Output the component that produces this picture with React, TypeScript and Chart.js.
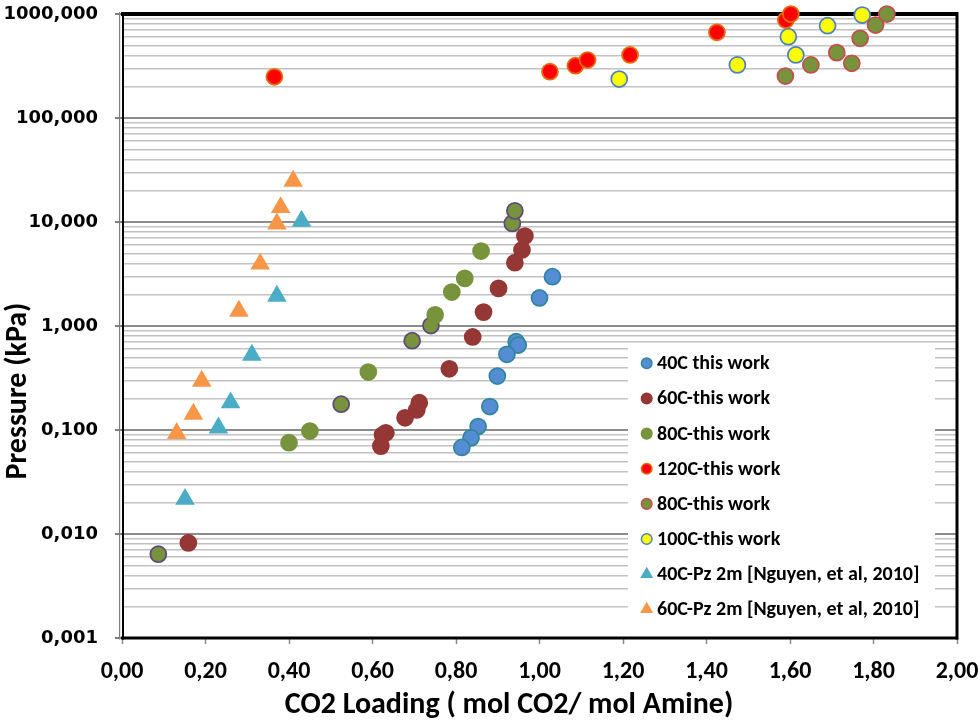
import React, { useEffect, useRef } from 'react';
import { Chart, registerables } from 'chart.js';

Chart.register(...registerables);

// ---------------- DATA ----------------
const seriesLabels = [
  '40C this work',
  '60C-this work',
  '80C-this work',
  '120C-this work',
  '80C-this work',
  '100C-this work',
  '40C-Pz 2m [Nguyen, et al, 2010]',
  '60C-Pz 2m [Nguyen, et al, 2010]',
];

const s40C_x = [1.031, 1.0, 0.944, 0.949, 0.922, 0.899, 0.881, 0.853, 0.836, 0.814];
const s40C_y = [2.98, 1.86, 0.706, 0.656, 0.535, 0.33, 0.168, 0.108, 0.084, 0.068];

const s60C_x = [0.159, 0.62, 0.624, 0.632, 0.678, 0.706, 0.712, 0.784, 0.84, 0.866, 0.902, 0.941, 0.958, 0.965];
const s60C_y = [0.0082, 0.07, 0.0895, 0.094, 0.131, 0.156, 0.183, 0.388, 0.784, 1.36, 2.3, 4.06, 5.38, 7.33];

const s80C_x = [0.4, 0.45, 0.59, 0.75, 0.79, 0.821, 0.86];
const s80C_y = [0.0755, 0.0977, 0.361, 1.28, 2.12, 2.87, 5.26];

const s120C_x = [0.365, 1.025, 1.086, 1.115, 1.217, 1.425, 1.59, 1.602];
const s120C_y = [249, 279, 318, 361, 404, 667, 875, 1000];

const s80Cb_x = [1.589, 1.65, 1.712, 1.748, 1.768, 1.805, 1.832];
const s80Cb_y = [253, 324, 425, 336, 584, 783, 1000];

const s100C_x = [1.191, 1.474, 1.596, 1.614, 1.69, 1.773];
const s100C_y = [237, 324, 605, 404, 772, 978];

const pz40_x = [0.151, 0.231, 0.26, 0.311, 0.371, 0.43];
const pz40_y = [0.0216, 0.105, 0.183, 0.526, 1.94, 10.2];

const pz60_x = [0.131, 0.171, 0.191, 0.28, 0.331, 0.371, 0.38, 0.41];
const pz60_y = [0.093, 0.1425, 0.296, 1.39, 3.95, 9.6, 13.8, 24.8];

// extra 80C points (purple outline), not in legend
const s80Cp_x = [0.087, 0.525, 0.695, 0.74, 0.935, 0.941];
const s80Cp_y = [0.0064, 0.177, 0.722, 1.01, 9.7, 12.8];

const xTickLabels = ['0,00', '0,20', '0,40', '0,60', '0,80', '1,00', '1,20', '1,40', '1,60', '1,80', '2,00'];
const yTickValues = [0.001, 0.01, 0.1, 1, 10, 100, 1000];
const yTickLabels = ['0,001', '0,010', '0,100', '1,000', '10,000', '100,000', '1000,000'];
const yMinorSteps = [2, 3, 4, 5, 6, 7, 8, 9];

const xTitle = 'CO2 Loading ( mol CO2/ mol Amine)';
const yTitle = 'Pressure (kPa)';

// ---------------- STYLE ----------------
const NARROW = 'Carlito, "Liberation Sans Narrow", "Open Sans", sans-serif';
const WIDE = '"DejaVu Sans", Verdana, sans-serif';

const toPts = (xs: number[], ys: number[]) => xs.map((x, i) => ({ x, y: ys[i] }));

const isMajorVal = (v: number) => yTickValues.some((t) => Math.abs(t - v) / t < 1e-6);

const frame = { left: 122, top: 14, right: 957, bottom: 638 };

const framePlugin = {
  id: 'frame',
  beforeDatasetsDraw(chart: any) {
    const { left, top, right, bottom } = chart.chartArea;
    const ctx = chart.ctx;
    ctx.save();
    ctx.fillStyle = '#000';
    ctx.fillRect(left - 1, top - 2, right - left + 2, 4);
    ctx.fillRect(right - 1.5, top - 2, 3, bottom - top + 3.5);
    ctx.fillRect(left - 1, bottom - 1.5, right - left + 2, 3);
    ctx.fillRect(left, top - 2, 2, bottom - top + 3.5);
    ctx.fillStyle = '#808080';
    ctx.fillRect(left - 3, top - 2, 1.2, bottom - top + 3.5);
    ctx.restore();
  },
};

const legendPlugin = {
  id: 'insideLegend',
  afterDatasetsDraw(chart: any) {
    const ctx = chart.ctx;
    const items = chart.data.datasets.filter((d: any) => !d.hideInLegend);
    ctx.save();
    ctx.fillStyle = '#ffffff';
    ctx.fillRect(628, 345, 307, 283);
    ctx.font = 'bold 20px ' + NARROW;
    ctx.textAlign = 'left';
    ctx.textBaseline = 'middle';
    items.forEach((d: any, i: number) => {
      const cy = 363.3 + i * 35.15;
      const cx = 646.7;
      ctx.beginPath();
      if (d.pointStyle === 'triangle') {
        const r = 7.5;
        ctx.moveTo(cx, cy - r);
        ctx.lineTo(cx + r * 0.866, cy + r / 2);
        ctx.lineTo(cx - r * 0.866, cy + r / 2);
        ctx.closePath();
        ctx.fillStyle = d.backgroundColor;
        ctx.fill();
      } else {
        ctx.arc(cx, cy, 5.3, 0, Math.PI * 2);
        ctx.fillStyle = d.backgroundColor;
        ctx.fill();
        ctx.lineWidth = 1.5;
        ctx.strokeStyle = d.borderColor;
        ctx.stroke();
      }
      ctx.fillStyle = '#000';
      ctx.fillText(d.label, 657, cy + 1);
    });
    ctx.restore();
  },
};

const titlePlugin = {
  id: 'axisTitles',
  afterDraw(chart: any) {
    const ctx = chart.ctx;
    ctx.save();
    ctx.fillStyle = '#000';
    ctx.font = 'bold 30px ' + NARROW;
    ctx.textAlign = 'center';
    ctx.textBaseline = 'middle';
    ctx.fillText(xTitle, 509, 705);
    ctx.translate(18, 391);
    ctx.rotate(-Math.PI / 2);
    ctx.fillText(yTitle, 0, 0);
    ctx.restore();
  },
};

export default function App() {
  const ref = useRef<HTMLCanvasElement | null>(null);

  useEffect(() => {
    if (!ref.current) return;
    const circle = (label: string, xs: number[], ys: number[], fill: string, border: string, extra: any = {}) => ({
      label,
      data: toPts(xs, ys),
      backgroundColor: fill,
      borderColor: border,
      pointBackgroundColor: fill,
      pointBorderColor: border,
      pointStyle: 'circle',
      pointRadius: 8,
      pointBorderWidth: 1.75,
      pointHoverRadius: 8,
      showLine: false,
      clip: false,
      ...extra,
    });
    const tri = (label: string, xs: number[], ys: number[], fill: string) => ({
      label,
      data: toPts(xs, ys),
      backgroundColor: fill,
      borderColor: fill,
      pointBackgroundColor: fill,
      pointBorderColor: fill,
      pointStyle: 'triangle',
      pointRadius: 11.3,
      pointBorderWidth: 0,
      pointHoverRadius: 11.3,
      showLine: false,
      clip: false,
    });

    const chart = new Chart(ref.current, {
      type: 'scatter',
      data: {
        datasets: [
          circle(seriesLabels[0], s40C_x, s40C_y, '#548DD4', '#31859C'),
          circle(seriesLabels[1], s60C_x, s60C_y, '#953735', '#953735'),
          circle(seriesLabels[2], s80C_x, s80C_y, '#77933C', '#77933C'),
          circle(seriesLabels[3], s120C_x, s120C_y, '#FF0000', '#E46C0A'),
          circle(seriesLabels[4], s80Cb_x, s80Cb_y, '#77933C', '#C0504D'),
          circle(seriesLabels[5], s100C_x, s100C_y, '#FFFF00', '#4F81BD'),
          tri(seriesLabels[6], pz40_x, pz40_y, '#4BACC6'),
          tri(seriesLabels[7], pz60_x, pz60_y, '#F79646'),
          circle('80C-this work', s80Cp_x, s80Cp_y, '#77933C', '#604A7B', { hideInLegend: true }),
        ] as any,
      },
      options: {
        responsive: false,
        animation: false,
        devicePixelRatio: 1,
        layout: { padding: { top: frame.top, right: 980 - frame.right, left: 0, bottom: 0 } },
        plugins: {
          legend: { display: false },
          tooltip: { enabled: false },
        },
        scales: {
          x: {
            type: 'linear',
            min: 0,
            max: 2,
            afterFit: (s: any) => {
              s.height = 721 - frame.bottom;
              s.paddingLeft = 0;
              s.paddingRight = 0;
              s.paddingTop = 0;
              s.paddingBottom = 0;
            },
            border: { display: false },
            grid: {
              drawOnChartArea: false,
              drawTicks: true,
              tickLength: 6,
              tickColor: '#8a8a8a',
              tickWidth: 1.5,
              color: '#8a8a8a',
            },
            ticks: {
              stepSize: 0.2,
              autoSkip: false,
              maxRotation: 0,
              padding: 14,
              color: '#000',
              font: { family: NARROW, size: 24, weight: 'bold' },
              callback: (_v: any, i: number) => xTickLabels[i],
            },
          },
          y: {
            type: 'logarithmic',
            min: 0.001,
            max: 1000,
            afterFit: (s: any) => {
              s.width = frame.left;
              s.paddingLeft = 0;
              s.paddingRight = 0;
              s.paddingTop = 0;
              s.paddingBottom = 0;
            },
            afterBuildTicks: (scale: any) => {
              const ticks: any[] = [];
              yTickValues.forEach((v, i) => {
                ticks.push({ value: v, major: true });
                if (i < yTickValues.length - 1) {
                  yMinorSteps.forEach((m) => ticks.push({ value: v * m, major: false }));
                }
              });
              scale.ticks = ticks;
            },
            border: { display: false },
            grid: {
              drawTicks: true,
              tickLength: 7,
              lineWidth: (c: any) => (c.tick && isMajorVal(c.tick.value) ? 2 : 1.5),
              color: (c: any) => (c.tick && isMajorVal(c.tick.value) ? '#8c8c8c' : '#c2c2c2'),
              tickColor: (c: any) => (c.tick && isMajorVal(c.tick.value) ? '#7f7f7f' : 'rgba(0,0,0,0)'),
            },
            ticks: {
              autoSkip: false,
              padding: 17,
              color: '#000',
              font: { family: WIDE, size: 18, weight: 'bold' },
              callback: (v: any) => {
                const i = yTickValues.findIndex((t) => Math.abs(t - Number(v)) / t < 1e-6);
                return i >= 0 ? yTickLabels[i] : '';
              },
            },
          },
        },
      } as any,
      plugins: [framePlugin, legendPlugin, titlePlugin],
    });
    return () => chart.destroy();
  }, []);

  return (
    <div style={{ position: 'fixed', left: 0, top: 0, width: 980, height: 721, background: '#fff' }}>
      <canvas ref={ref} width={980} height={721} style={{ display: 'block' }} />
    </div>
  );
}
